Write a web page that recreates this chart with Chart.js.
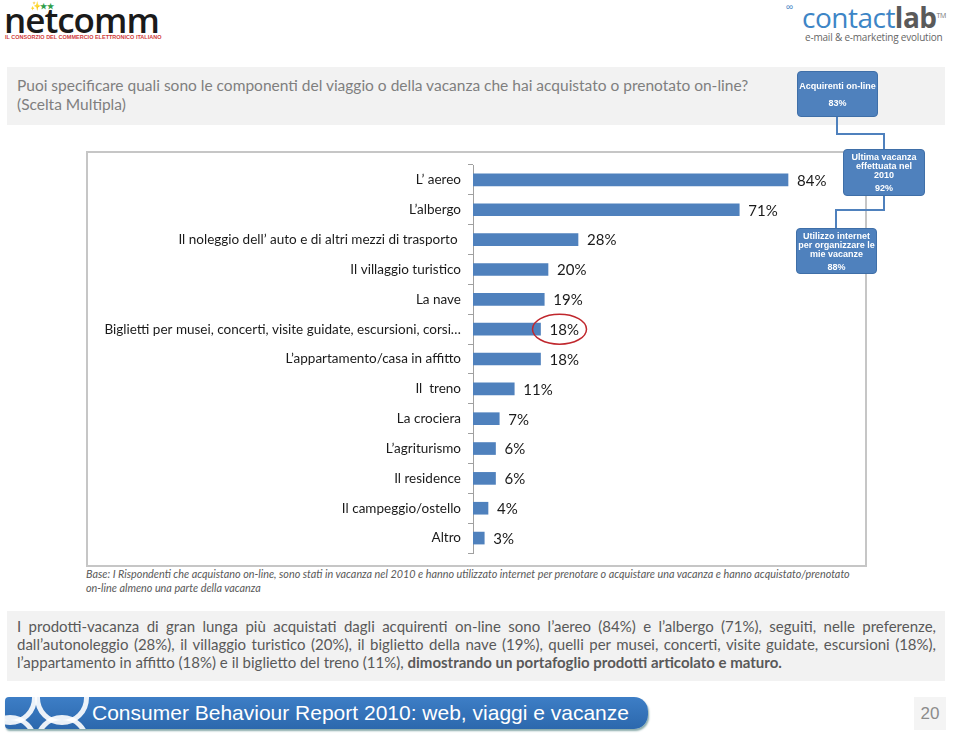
<!DOCTYPE html>
<html>
<head>
<meta charset="utf-8">
<script src="https://cdn.jsdelivr.net/npm/chart.js@4.4.1/dist/chart.umd.min.js"></script>
<style>
  body { margin: 0; width: 960px; height: 733px; background: #fff; position: relative; overflow: hidden; font-family: Lato, "Liberation Sans", sans-serif; }
  .abs { position: absolute; }
  .question { left: 7px; top: 67px; width: 938px; height: 58px; background: #f2f2f2; }
  .question p { margin: 0; position: absolute; left: 10px; top: 9px; font-size: 15.5px; line-height: 19px; color: #7f7f7f; }
  .frame { left: 86px; top: 151px; width: 777px; height: 412px; border: 2px solid #c6c6c6; }
  .box { background: #4f81bd; border: 1px solid #3f6fa8; border-radius: 4px; color: #fff; font: bold 9px "Liberation Sans", Arial, sans-serif; text-align: center; box-sizing: border-box; }
  .conn { background: #4f81bd; }
  .base { left: 86px; top: 567px; font-size: 10.8px; line-height: 14px; font-style: italic; color: #595959; white-space: nowrap; }
  .para { left: 7px; top: 611px; width: 938px; height: 70px; background: #f2f2f2; }
  .para p { margin: 0; position: absolute; left: 10px; right: 9px; top: 6px; font-size: 15px; line-height: 18px; color: #595959; text-align: justify; text-align-last: left; }
  .footer { left: 5px; top: 697px; width: 643px; height: 32px; border-radius: 4px 14px 14px 4px; background: linear-gradient(#3d7ec6, #2c68ad); box-shadow: 1px 2px 2px #8aa; overflow: hidden; }
  .footer-text { left: 92px; top: 701px; font: 21px "Liberation Sans", Arial, sans-serif; color: #fff; white-space: nowrap; }
  .pagenum { left: 914px; top: 697px; width: 32px; height: 33px; background: #f4f4f4; color: #8c8c8c; font: 17px "Liberation Sans", Arial, sans-serif; line-height: 33px; text-align: center; }
</style>
</head>
<body>

<!-- logos -->
<div class="abs" style="left:4px;top:-4px;font:600 35px 'Open Sans',sans-serif;color:#1a1a1a;letter-spacing:-1px;">netcomm</div>
<div class="abs" style="left:30px;top:1px;font:bold 9px sans-serif;color:#c62828;">&#10024;</div>
<div class="abs" style="left:40px;top:2px;font:bold 8px sans-serif;color:#2e9e4a;">&#9733;&#9733;</div>
<div class="abs" style="left:5px;top:34px;font:bold 5.5px 'Liberation Sans',sans-serif;color:#d03a3a;white-space:nowrap;">IL CONSORZIO DEL COMMERCIO ELETTRONICO ITALIANO</div>
<div class="abs" style="left:786px;top:1px;font:10px sans-serif;color:#4f8ac8;">&#8734;</div>
<div class="abs" style="left:802px;top:-2px;font:28px 'Open Sans',sans-serif;color:#3d85c6;letter-spacing:-0.5px;white-space:nowrap;">contact<b style="color:#5a5a5a">lab</b><sup style="font-size:7px;color:#777">TM</sup></div>
<div class="abs" style="left:805px;top:30px;font:10px 'Open Sans',sans-serif;letter-spacing:-0.2px;color:#666;white-space:nowrap;">e-mail &amp; e-marketing evolution</div>

<div class="abs question"><p>Puoi specificare quali sono le componenti del viaggio o della vacanza che hai acquistato o prenotato on-line?<br>(Scelta Multipla)</p></div>

<div class="abs frame"></div>
<div class="abs" style="left:88px;top:153px;width:776px;height:410px;"><canvas id="bars"></canvas></div>

<!-- callout connectors -->
<div class="abs conn" style="left:836px;top:116px;width:2px;height:19px;"></div>
<div class="abs conn" style="left:836px;top:133px;width:49px;height:2px;"></div>
<div class="abs conn" style="left:883px;top:133px;width:2px;height:16px;"></div>
<div class="abs conn" style="left:883px;top:195px;width:2px;height:16px;"></div>
<div class="abs conn" style="left:835px;top:209px;width:50px;height:2px;"></div>
<div class="abs conn" style="left:835px;top:209px;width:2px;height:20px;"></div>

<div class="abs box" style="left:797px;top:71px;width:81px;height:46px;padding-top:9px;">Acquirenti on-line<br><span style="display:block;margin-top:7px">83%</span></div>
<div class="abs box" style="left:843px;top:149px;width:82px;height:47px;padding-top:3px;line-height:9px;">Ultima vacanza<br>effettuata nel<br>2010<br><span style="display:block;margin-top:4px">92%</span></div>
<div class="abs box" style="left:796px;top:228px;width:81px;height:46px;padding-top:3px;line-height:9px;">Utilizzo internet<br>per organizzare le<br>mie vacanze<br><span style="display:block;margin-top:4px">88%</span></div>

<div class="abs base">Base: I Rispondenti che acquistano on-line, sono stati in vacanza nel 2010 e hanno utilizzato internet per prenotare o acquistare una vacanza e hanno acquistato/prenotato<br>on-line almeno una parte della vacanza</div>

<div class="abs para"><p>I prodotti-vacanza di gran lunga più acquistati dagli acquirenti on-line sono l’aereo (84%) e l’albergo (71%), seguiti, nelle preferenze, dall’autonoleggio (28%), il villaggio turistico (20%), il biglietto della nave (19%), quelli per musei, concerti, visite guidate, escursioni (18%), l’appartamento in affitto (18%) e il biglietto del treno (11%), <b>dimostrando un portafoglio prodotti articolato e maturo.</b></p></div>

<div class="abs footer">
  <div class="abs" style="left:-22px;top:-26px;width:44px;height:44px;border:5px solid #fff;border-radius:50%;opacity:0.9;"></div>
  <div class="abs" style="left:-22px;top:18px;width:44px;height:44px;border:5px solid #fff;border-radius:50%;opacity:0.9;"></div>
  <div class="abs" style="left:30px;top:-26px;width:44px;height:44px;border:5px solid #fff;border-radius:50%;opacity:0.9;"></div>
  <div class="abs" style="left:30px;top:18px;width:44px;height:44px;border:5px solid #fff;border-radius:50%;opacity:0.9;"></div>
</div>
<div class="abs footer-text">Consumer Behaviour Report 2010: web, viaggi e vacanze</div>
<div class="abs pagenum">20</div>

<script>
"use strict";

const categories = [
  "L’ aereo",
  "L’albergo",
  "Il noleggio dell’ auto e di altri mezzi di trasporto ",
  "Il villaggio turistico",
  "La nave",
  "Biglietti per musei, concerti, visite guidate, escursioni, corsi…",
  "L’appartamento/casa in affitto",
  "Il  treno",
  "La crociera",
  "L’agriturismo",
  "Il residence",
  "Il campeggio/ostello",
  "Altro",
];
const values = [84, 71, 28, 20, 19, 18, 18, 11, 7, 6, 6, 4, 3];
const circledIndex = 5;

const BAR_BLUE = "#4f81bd";

const valueLabels = {
  id: "valueLabels",
  afterDatasetsDraw(chart) {
    const ctx = chart.ctx;
    const meta = chart.getDatasetMeta(0);
    ctx.save();
    ctx.font = "15px Lato, sans-serif";
    ctx.fillStyle = "#1a1a1a";
    ctx.textBaseline = "middle";
    meta.data.forEach((bar, i) => {
      const x = bar.x + 9;
      ctx.fillText(values[i] + "%", x, bar.y + 1);
      if (i === circledIndex) {
        ctx.beginPath();
        ctx.ellipse(x + 10, bar.y, 27, 15, 0, 0, Math.PI * 2);
        ctx.strokeStyle = "#c0272d";
        ctx.lineWidth = 1.5;
        ctx.stroke();
      }
    });
    ctx.restore();
  },
};

new Chart(document.getElementById("bars"), {
  type: "bar",
  plugins: [valueLabels],
  data: {
    labels: categories,
    datasets: [
      {
        data: values,
        backgroundColor: BAR_BLUE,
        borderWidth: 0,
        barThickness: 12,
      },
    ],
  },
  options: {
    indexAxis: "y",
    responsive: true,
    maintainAspectRatio: false,
    animation: false,
    layout: { padding: { top: 12, bottom: 10, left: 0, right: 16 } },
    plugins: { legend: { display: false }, tooltip: { enabled: false } },
    scales: {
      x: { display: false, min: 0, max: 100 },
      y: {
        afterFit(scale) {
          scale.width = 385;
          scale.paddingTop = 0;
          scale.paddingBottom = 0;
        },
        grid: { drawOnChartArea: false, tickLength: 5, color: "#a0a0a0" },
        border: { color: "#a0a0a0", dash: [2, 2] },
        ticks: {
          color: "#1a1a1a",
          font: { family: "Lato", size: 13.5 },
          padding: 7,
          autoSkip: false,
        },
      },
    },
  },
});
</script>
</body>
</html>
